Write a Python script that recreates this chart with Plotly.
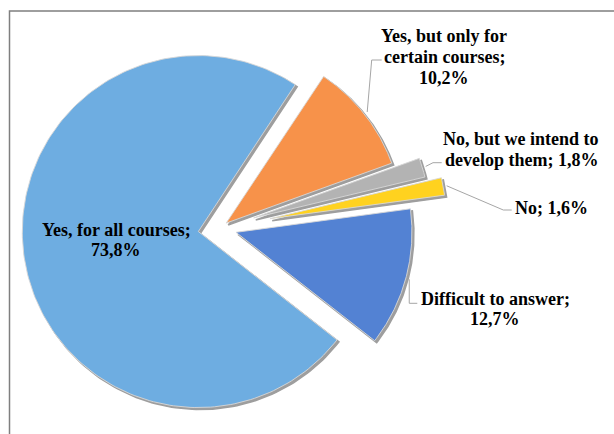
import numpy as np
import plotly.graph_objects as go

# Survey answers and their shares (%)
labels = [
    "Yes, for all courses",
    "Yes, but only for certain courses",
    "No, but we intend to develop them",
    "No",
    "Difficult to answer",
]
values = [73.8, 10.2, 1.8, 1.6, 12.7]
value_text = ["73,8%", "10,2%", "1,8%", "1,6%", "12,7%"]

# Label text split into display lines
label_lines = [
    ["Yes, for all courses;", "73,8%"],
    ["Yes, but only for", "certain courses;", "10,2%"],
    ["No, but we intend to", "develop them; 1,8%"],
    ["No; 1,6%"],
    ["Difficult to answer;", "12,7%"],
]

# Styling
colors = ["#6EADE1", "#F7924A", "#B3B3B3", "#FFD21F", "#5382D3"]
pulls = [0.125, 0.045, 0.20, 0.29, 0.094]
start_deg = -38.0  # slices run clockwise from here
LABEL_FONT = "Liberation Serif, DejaVu Serif, serif"

W, H = 614, 434
CX, CY, R = 220.0, 228.0, 176.0  # pie centre and radius in pixels


def to_data(px, py):
    return (px - CX) / R, (CY - py) / R


fig = go.Figure()

total = sum(values)
theta = start_deg
slices = []
for v, p in zip(values, pulls):
    span = 360.0 * v / total
    a0, a1 = theta, theta - span
    mid = np.radians((a0 + a1) / 2)
    ox, oy = p * np.cos(mid), p * np.sin(mid)
    slices.append((a0, a1, ox, oy, mid))
    theta = a1

shadow = 2.0 / R
for (a0, a1, ox, oy, mid), col in zip(slices, colors):
    ang = np.radians(np.linspace(a0, a1, 200))
    xs = np.concatenate([[ox], ox + np.cos(ang), [ox]])
    ys = np.concatenate([[oy], oy + np.sin(ang), [oy]])
    # drop shadow
    fig.add_trace(go.Scatter(
        x=xs + shadow, y=ys - shadow, mode="lines", fill="toself",
        fillcolor="#9E9E9E", line=dict(color="#9E9E9E", width=1.5),
        hoverinfo="skip", showlegend=False))
    fig.add_trace(go.Scatter(
        x=xs, y=ys, mode="lines", fill="toself", fillcolor=col,
        line=dict(color="rgba(215,215,215,0.9)", width=1),
        hoverinfo="skip", showlegend=False))

# Leader lines: (slice index, elbow, end) in pixels
leaders = [
    (1, (371.7, 60.0), (381.7, 60.0)),
    (2, (433.0, 162.7), (441.7, 162.7)),
    (3, (503.3, 210.0), (511.7, 210.0)),
    (4, None, (417.3, 303.3)),
]
for idx, elbow, end in leaders:
    a0, a1, ox, oy, mid = slices[idx]
    sx, sy = ox + 1.02 * np.cos(mid), oy + 1.02 * np.sin(mid)
    ex, ey = to_data(*end)
    if elbow is None:
        bx, by = sx, ey
    else:
        bx, by = to_data(*elbow)
    fig.add_trace(go.Scatter(
        x=[sx, bx, ex], y=[sy, by, ey], mode="lines",
        line=dict(color="#A6A6A6", width=1),
        hoverinfo="skip", showlegend=False))

# Label placement: centre x and first-line y (pixels), line step
label_pos = [
    (116, 230, 20),
    (444, 35.5, 21),
    (521, 138.5, 21),
    (551, 207.5, 21),
    (495, 298.5, 20),
]
for lines, (lx, ly, step) in zip(label_lines, label_pos):
    for k, txt in enumerate(lines):
        x, y = to_data(lx, ly + k * step)
        fig.add_annotation(
            x=x, y=y, xref="x", yref="y", text="<b>" + txt + "</b>",
            showarrow=False, xanchor="center", yanchor="middle",
            font=dict(family=LABEL_FONT, size=18, color="black"))

# Chart frame
fig.add_shape(type="rect", xref="paper", yref="paper",
              x0=9.5 / W, y0=1 - 11.0 / H, x1=1.05, y1=-0.05,
              line=dict(color="#7F7F7F", width=1.5), fillcolor="rgba(0,0,0,0)")

x0, y1 = to_data(0, 0)
x1, y0 = to_data(W, H)
fig.update_layout(
    width=W, height=H,
    margin=dict(l=0, r=0, t=0, b=0),
    paper_bgcolor="white", plot_bgcolor="white",
    font=dict(family=LABEL_FONT),
    xaxis=dict(range=[x0, x1], visible=False, fixedrange=True),
    yaxis=dict(range=[y0, y1], visible=False, fixedrange=True),
    showlegend=False,
)

fig.write_html("out.html")
